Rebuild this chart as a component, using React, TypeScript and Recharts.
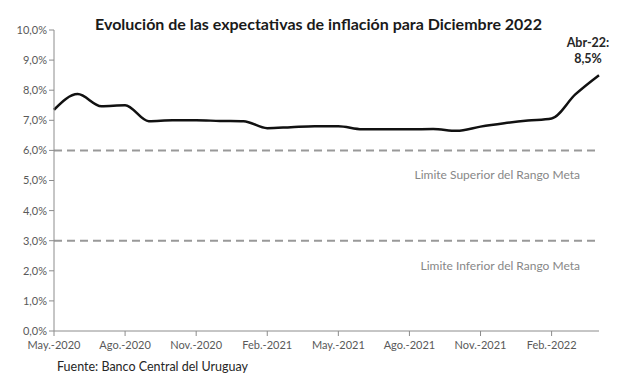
import { Line, LineChart, ReferenceLine, XAxis, YAxis } from "recharts";

const months = [
  "May.-2020", "Jun.-2020", "Jul.-2020", "Ago.-2020", "Set.-2020", "Oct.-2020",
  "Nov.-2020", "Dic.-2020", "Ene.-2021", "Feb.-2021", "Mar.-2021", "Abr.-2021",
  "May.-2021", "Jun.-2021", "Jul.-2021", "Ago.-2021", "Set.-2021", "Oct.-2021",
  "Nov.-2021", "Dic.-2021", "Ene.-2022", "Feb.-2022", "Mar.-2022", "Abr.-2022",
];

const expectativa = [
  7.35, 7.87, 7.47, 7.5, 6.97, 7.0, 7.0, 6.98, 6.97, 6.74, 6.77, 6.8,
  6.8, 6.7, 6.7, 6.7, 6.71, 6.65, 6.79, 6.9, 6.99, 7.06, 7.86, 8.5,
];

const yTicks = [0, 1, 2, 3, 4, 5, 6, 7, 8, 9, 10];
const limiteSuperior = 6;
const limiteInferior = 3;
const lastLabel = ["Abr-22:", "8,5%"];

const data = months.map((month, i) => ({ month, value: expectativa[i] }));

const FONT = "Lato, 'Open Sans', sans-serif";
const pct = (v: number) => v.toFixed(1).replace(".", ",") + "%";

function RefLabel({ viewBox, text }: any) {
  if (!viewBox) return null;
  return (
    <text
      x={viewBox.x + viewBox.width - 19}
      y={viewBox.y + 29}
      textAnchor="end"
      fill="#878787"
      fontSize={12}
      fontFamily={FONT}
    >
      {text}
    </text>
  );
}

function LastPointLabel(props: any) {
  const { x, y, index } = props;
  if (index !== data.length - 1) return null;
  return (
    <text textAnchor="middle" fill="#262626" fontSize={12.5} fontWeight={700} fontFamily={FONT}>
      <tspan x={x - 11} y={y - 28}>{lastLabel[0]}</tspan>
      <tspan x={x - 11} y={y - 12}>{lastLabel[1]}</tspan>
    </text>
  );
}

export default function App() {
  return (
    <div style={{ position: "absolute", left: 0, top: 0, width: 617, height: 383, background: "#fff", fontFamily: FONT }}>
      <div
        style={{
          position: "absolute",
          left: 0,
          width: 637,
          top: 14,
          textAlign: "center",
          fontSize: 16,
          fontWeight: 700,
          color: "#1a1a1a",
        }}
      >
        Evolución de las expectativas de inflación para Diciembre 2022
      </div>
      <LineChart width={617} height={383} data={data} margin={{ top: 30, right: 18, bottom: 22, left: 0 }}>
        <XAxis
          dataKey="month"
          interval={2}
          tickSize={5}
          stroke="#8c8c8c"
          tick={{ fill: "#595959", fontSize: 11, fontFamily: FONT, dy: 3 }}
          height={30}
        />
        <YAxis
          domain={[0, 10]}
          ticks={yTicks}
          tickFormatter={pct}
          width={54}
          tickSize={5}
          stroke="#8c8c8c"
          tick={{ fill: "#595959", fontSize: 11, fontFamily: FONT }}
        />
        <ReferenceLine
          y={limiteSuperior}
          stroke="#999"
          strokeWidth={2}
          strokeDasharray="8 5"
          label={<RefLabel text="Limite Superior del Rango Meta" />}
        />
        <ReferenceLine
          y={limiteInferior}
          stroke="#999"
          strokeWidth={2}
          strokeDasharray="8 5"
          label={<RefLabel text="Limite Inferior del Rango Meta" />}
        />
        <Line
          type="monotone"
          dataKey="value"
          stroke="#111"
          strokeWidth={2.5}
          dot={false}
          isAnimationActive={false}
          label={<LastPointLabel />}
        />
      </LineChart>
      <div style={{ position: "absolute", left: 57, top: 359, fontSize: 12.5, color: "#262626" }}>
        Fuente: Banco Central del Uruguay
      </div>
    </div>
  );
}
